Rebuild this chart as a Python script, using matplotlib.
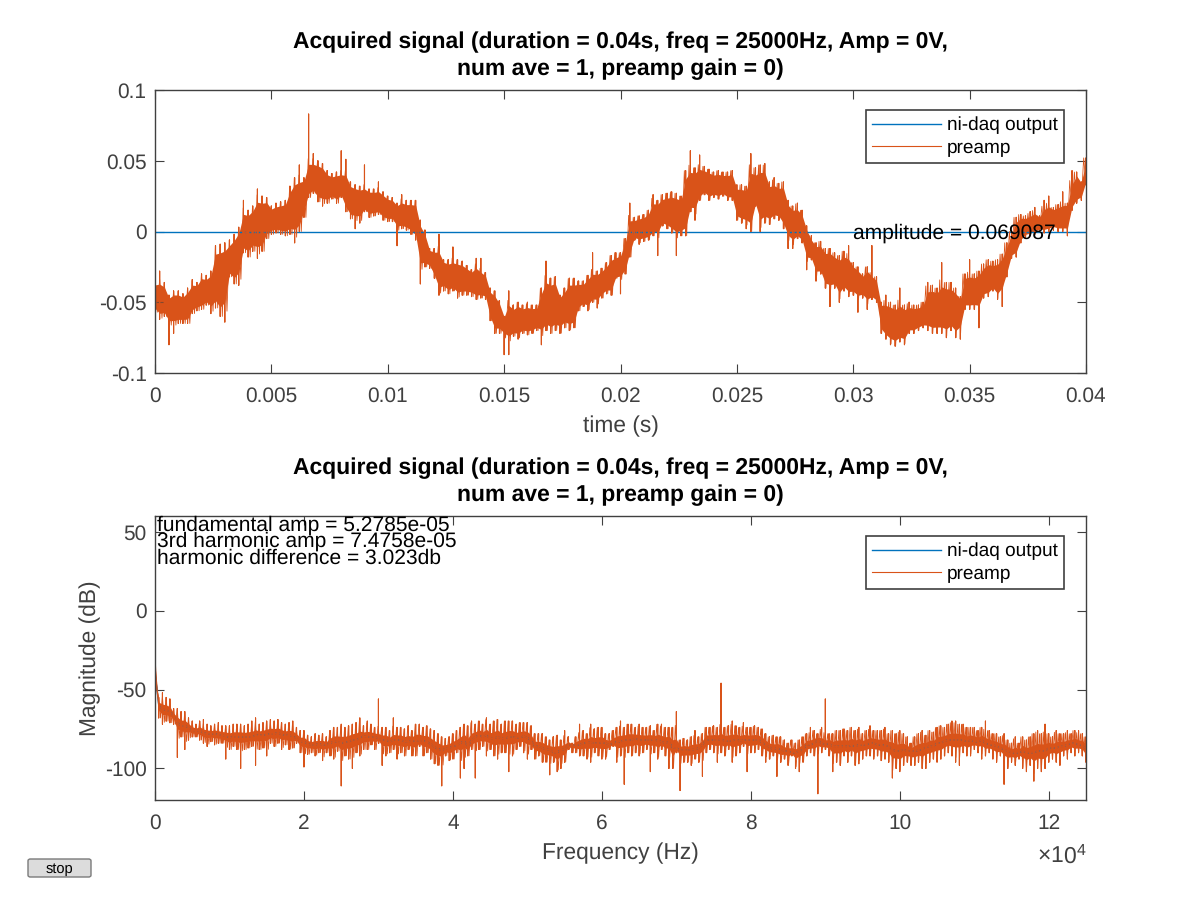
import numpy as np
import matplotlib
matplotlib.use('Agg')
import matplotlib.pyplot as plt
from matplotlib.patches import FancyBboxPatch

plt.rcParams['font.family'] = ['Liberation Sans', 'DejaVu Sans']
plt.rcParams['mathtext.fontset'] = 'custom'
plt.rcParams['mathtext.rm'] = 'Liberation Sans'
plt.rcParams['mathtext.default'] = 'regular'
plt.rcParams['text.hinting'] = 'none'

# top plot, preamp signal: upper and lower edge of the trace, in mV
time_hi = [-35,-28,-36,-45,-42,-42,-44,-40,-34,-36,-30,-31,-28,-10,-9,-8,-6,-2,3,22,
           15,18,30,25,24,18,20,21,22,32,38,47,38,83,55,50,48,43,41,42,
           57,51,35,33,32,47,30,30,35,28,25,24,20,26,22,22,22,8,1,-12,
           -12,-2,-20,-20,-11,-20,-21,-24,-27,-19,-19,-29,-40,-42,-49,-60,-42,-52,-50,-52,
           -50,-52,-52,-40,-21,-33,-32,-45,-40,-33,-33,-35,-35,-31,-15,-28,-26,-22,-17,-15,
           -15,-5,20,10,11,12,15,26,22,26,27,28,27,25,43,57,45,54,46,44,
           42,43,42,42,43,33,33,32,55,45,47,48,35,38,34,35,22,18,20,15,
           4,-3,-8,-7,-12,-12,-15,-17,-14,-10,-22,-25,-30,-25,-10,-32,-50,-45,-50,-52,
           -40,-52,-50,-52,-52,-50,-36,-38,-40,-22,-36,-36,-40,-46,-30,-20,-30,-28,-23,-20,
           -21,-20,-16,-8,0,10,12,11,14,17,11,22,25,17,19,28,20,43,42,35,52]
time_lo = [-57,-62,-60,-80,-72,-65,-65,-65,-58,-56,-55,-52,-58,-54,-60,-64,-32,-37,-38,-15,
           -18,-14,-19,-14,-5,-2,-1,-2,-3,-2,-8,0,10,24,27,21,18,20,23,20,
           24,14,9,2,6,14,10,11,12,8,7,7,-10,2,1,-2,-6,-37,-25,-26,
           -33,-45,-42,-44,-42,-47,-45,-45,-46,-48,-47,-48,-63,-72,-72,-87,-87,-74,-76,-72,
           -73,-72,-70,-80,-70,-72,-70,-72,-68,-70,-68,-56,-53,-56,-50,-54,-47,-44,-45,-33,
           -44,-30,-18,-6,-9,-7,-6,-3,-17,4,2,-1,-17,-3,-3,14,8,22,26,22,
           24,23,25,22,22,8,6,2,0,18,0,6,5,9,8,2,-12,-12,-5,-8,
           -27,-20,-35,-30,-40,-53,-40,-50,-42,-46,-45,-57,-47,-55,-48,-50,-72,-76,-80,-81,
           -78,-80,-72,-72,-70,-68,-70,-72,-72,-72,-75,-70,-75,-76,-55,-55,-55,-68,-47,-46,
           -42,-48,-53,-32,-19,-18,-8,-4,-3,-2,0,-1,0,1,0,0,-3,15,20,22,33]

# bottom plot, preamp spectrum, upper and lower edge in dB
freq_hi = [-28,-55,-52,-55,-56,-62,-62,-64,-64,-68,-70,-72,-70,-69,-72,-73,-72,-71,-73,-73,
           -73,-72,-72,-72,-73,-72,-70,-68,-72,-71,-70,-69,-70,-69,-71,-72,-71,-70,-74,-76,
           -76,-79,-80,-78,-79,-78,-80,-76,-74,-74,-72,-74,-73,-72,-71,-68,-73,-70,-72,-74,
           -56,-74,-74,-76,-68,-74,-74,-75,-73,-76,-72,-72,-74,-73,-75,-76,-78,-80,-81,-80,
           -78,-76,-74,-72,-73,-70,-72,-70,-72,-68,-72,-70,-69,-72,-70,-70,-70,-72,-71,-71,
           -71,-73,-78,-78,-78,-80,-82,-80,-79,-82,-76,-80,-84,-80,-72,-76,-78,-72,-75,-74,
           -74,-78,-78,-76,-74,-70,-74,-72,-72,-74,-72,-74,-74,-73,-76,-72,-72,-74,-74,-74,
           -64,-82,-81,-82,-80,-76,-80,-78,-74,-74,-73,-74,-46,-74,-73,-70,-73,-74,-71,-74,
           -74,-73,-74,-75,-78,-80,-79,-80,-80,-82,-84,-82,-84,-82,-80,-78,-74,-76,-78,-74,
           -56,-78,-78,-76,-76,-75,-76,-74,-76,-74,-78,-76,-73,-76,-76,-76,-74,-78,-76,-78,
           -76,-78,-80,-84,-80,-78,-76,-79,-76,-77,-74,-73,-74,-72,-70,-70,-72,-72,-74,-74,
           -74,-76,-74,-70,-76,-78,-78,-80,-78,-82,-84,-80,-84,-80,-82,-80,-78,-76,-78,-72,
           -78,-80,-76,-78,-78,-76,-78,-76,-76,-78,-80]
freq_lo = [-50,-68,-72,-70,-71,-72,-93,-80,-88,-82,-80,-80,-82,-84,-86,-83,-85,-84,-84,-94,
           -88,-86,-88,-100,-88,-87,-86,-98,-88,-87,-92,-84,-86,-84,-88,-85,-88,-87,-84,-90,
           -99,-91,-90,-92,-90,-95,-90,-92,-94,-89,-111,-92,-94,-100,-90,-92,-88,-88,-85,-88,
           -84,-98,-92,-90,-88,-94,-90,-92,-88,-92,-92,-86,-92,-90,-94,-97,-98,-111,-92,-95,
           -94,-90,-106,-100,-92,-88,-106,-88,-86,-92,-88,-92,-94,-90,-90,-102,-92,-88,-86,-90,
           -94,-88,-94,-92,-96,-96,-104,-96,-102,-100,-96,-88,-90,-90,-92,-92,-94,-96,-90,-92,
           -94,-94,-88,-86,-96,-92,-110,-90,-92,-90,-92,-90,-88,-102,-90,-94,-88,-92,-100,-100,
           -90,-114,-96,-96,-98,-94,-96,-105,-90,-88,-90,-96,-90,-92,-88,-96,-92,-90,-86,-102,
           -90,-90,-88,-92,-96,-94,-92,-105,-96,-94,-98,-92,-100,-102,-96,-92,-90,-92,-116,-90,
           -88,-92,-102,-96,-98,-92,-96,-92,-98,-97,-94,-92,-92,-94,-92,-95,-94,-96,-106,-100,
           -102,-98,-96,-98,-98,-96,-100,-100,-96,-94,-96,-94,-92,-90,-92,-96,-98,-90,-92,-92,
           -88,-90,-94,-92,-90,-94,-96,-92,-110,-100,-96,-98,-94,-100,-102,-98,-108,-100,-102,-100,
           -96,-94,-96,-98,-92,-94,-90,-92,-90,-92,-96]

time_xticks = [0, 0.005, 0.01, 0.015, 0.02, 0.025, 0.03, 0.035, 0.04]
time_xlabels = ['0', '0.005', '0.01', '0.015', '0.02', '0.025', '0.03', '0.035', '0.04']
time_yticks = [-0.1, -0.05, 0, 0.05, 0.1]
time_ylabels = ['-0.1', '-0.05', '0', '0.05', '0.1']
freq_xticks = [0, 20000, 40000, 60000, 80000, 100000, 120000]
freq_xlabels = ['0', '2', '4', '6', '8', '10', '12']
freq_yticks = [-100, -50, 0, 50]
freq_ylabels = ['-100', '-50', '0', '50']

title = 'Acquired signal (duration = 0.04s, freq = 25000Hz, Amp = 0V,\nnum ave = 1, preamp gain = 0)'
notes = ['fundamental amp = 5.2785e-05', '3rd harmonic amp = 7.4758e-05', 'harmonic difference = 3.023db']

BLUE = '#0072BD'
ORANGE = '#D95319'
DARK = '#404040'
W, H = 1200, 900


def place(fig, x0, y0, x1, y1):
    return fig.add_axes([x0 / W, 1 - y1 / H, (x1 - x0) / W, (y1 - y0) / H])


def style(ax):
    ax.tick_params(direction='in', top=True, right=True, length=6.5, width=0.8,
                   labelsize=15, color=DARK, labelcolor=DARK)
    ax.tick_params(axis='x', pad=10)
    ax.tick_params(axis='y', pad=6)
    for s in ax.spines.values():
        s.set_linewidth(1.0)
        s.set_color(DARK)
    ax.set_title(title, fontsize=16.5, fontweight='bold', color='black', pad=10.5, linespacing=1.35)
    leg = ax.legend(loc='upper right', bbox_to_anchor=(0.9765, 0.93), fontsize=13.7, fancybox=False,
                    framealpha=1, edgecolor=DARK, borderpad=0.35, labelspacing=0.25,
                    handlelength=3.6, handletextpad=0.3, borderaxespad=0)
    leg.get_frame().set_linewidth(1.2)
    for t in leg.get_texts():
        t.set_color('black')


def med5(v):
    # edge of the solid part of the trace, without the single spikes
    v = np.asarray(v, dtype=float)
    p = np.pad(v, 2, mode='edge')
    return np.median(np.lib.stride_tricks.sliding_window_view(p, 5), axis=1)


def centre(hi, lo):
    return (med5(hi) + med5(lo)) / 2


def trace(ax, x, hi, lo, frac, scale=1.0):
    # rough core, hair between the columns, one vertical stroke per column for the spikes
    hi = np.asarray(hi, dtype=float)
    lo = np.asarray(lo, dtype=float)
    mid = centre(hi, lo)
    cap = (med5(hi) - med5(lo)) / 2
    up = np.minimum(hi - mid, 1.1 * cap)
    down = np.minimum(mid - lo, 1.1 * cap)
    ax.fill_between(x, (mid - down * frac) / scale, (mid + up * frac) / scale, color=ORANGE, lw=0)
    hair_x = np.linspace(x[0], x[-1], 2 * len(x))
    hair_y = np.column_stack([mid + up, mid - down]).ravel()
    ax.plot(hair_x, hair_y / scale, color=ORANGE, lw=0.6)
    xs = np.repeat(x, 4)
    ys = np.column_stack([mid, hi, lo, mid]).ravel()
    ax.plot(xs, ys / scale, color=ORANGE, lw=0.8, label='preamp')


fig = plt.figure(figsize=(12, 9), dpi=100)

ax1 = place(fig, 155, 90, 1086, 373)
t = np.linspace(0, 0.04, len(time_hi))
ax1.plot(t, np.zeros(len(t)), color=BLUE, lw=1.0, label='ni-daq output')
trace(ax1, t, time_hi, time_lo, 0.75, 1000)
ax1.set_xlim(0, 0.04)
ax1.set_ylim(-0.1, 0.1)
ax1.set_xticks(time_xticks, time_xlabels)
ax1.set_yticks(time_yticks, time_ylabels)
ax1.set_xlabel('time (s)', fontsize=16.4, color=DARK, labelpad=6.5)
style(ax1)
ax1.text(0.03, -0.0015, 'amplitude = 0.069087', fontsize=15.1, color='black', va='center', ha='left')

ax2 = place(fig, 155, 516, 1086, 800)
f = np.linspace(0, 125000, len(freq_hi))
ax2.plot(f, centre(freq_hi, freq_lo), color=BLUE, lw=1.0, label='ni-daq output')
trace(ax2, f, freq_hi, freq_lo, 0.4)
ax2.set_xlim(0, 125000)
ax2.set_ylim(-120, 60)
ax2.set_xticks(freq_xticks, freq_xlabels)
ax2.set_yticks(freq_yticks, freq_ylabels)
ax2.set_xlabel('Frequency (Hz)', fontsize=16.4, color=DARK, labelpad=6.5)
ax2.set_ylabel('Magnitude (dB)', fontsize=16.4, color=DARK, labelpad=3)
style(ax2)
ax2.text(300, 60.5, '\n'.join(notes), fontsize=15.1, color='black', va='top', ha='left', linespacing=0.8)
fig.text(1086 / W, 1 - 863 / H, r'$\times 10^4$', fontsize=16.5, color=DARK, ha='right', va='baseline')

# the gui stop button under the plots
btn = FancyBboxPatch((28 / W, 1 - 877 / H), 63 / W, 18 / H, transform=fig.transFigure,
                     boxstyle='round,pad=0,rounding_size=0.002', facecolor='#dcdcdc',
                     edgecolor='#7a7a7a', linewidth=1.0)
fig.add_artist(btn)
fig.text(59 / W, 1 - 869 / H, 'stop', fontsize=10.5, color='black', ha='center', va='center')

fig.savefig('out.png', dpi=100)
